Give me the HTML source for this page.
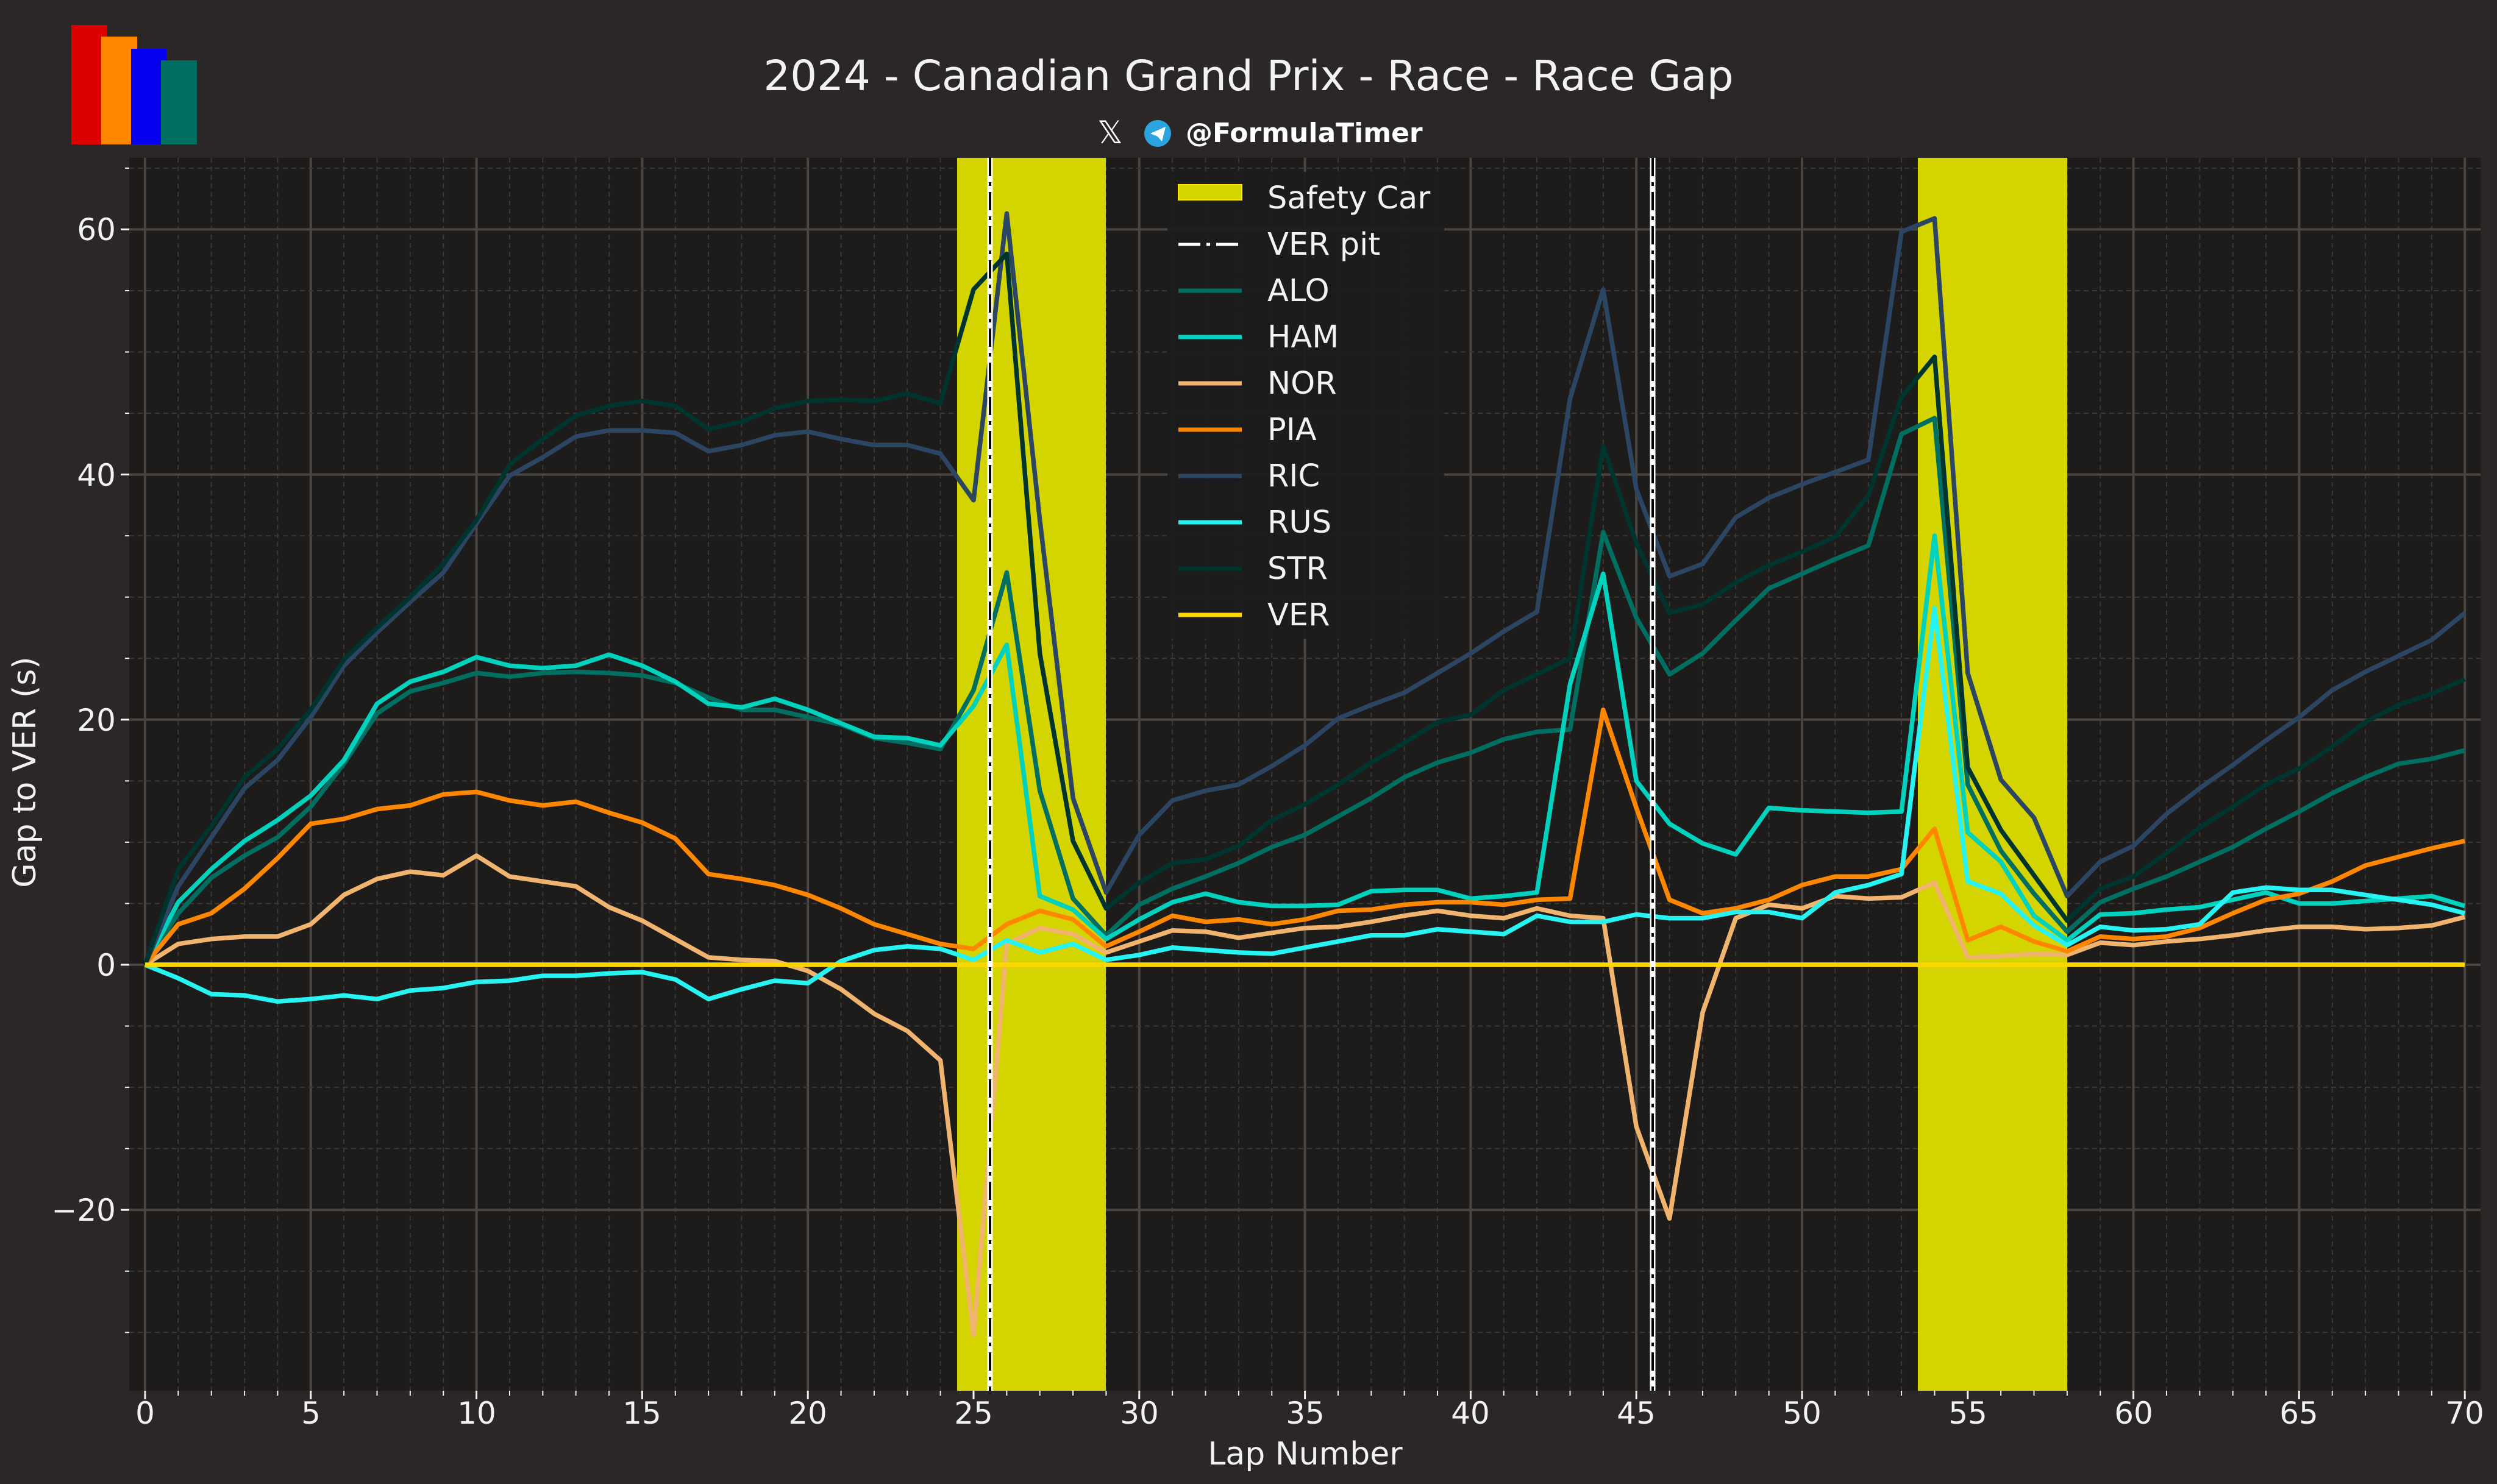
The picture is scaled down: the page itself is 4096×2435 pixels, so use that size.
<!DOCTYPE html>
<html><head><meta charset="utf-8"><style>
html,body{margin:0;padding:0;background:#2a2726;}
svg{display:block;font-family:"DejaVu Sans","Liberation Sans",sans-serif;}
</style></head><body>
<svg id="s" width="4096" height="2435" viewBox="0 0 4096 2435" xmlns="http://www.w3.org/2000/svg">
<rect width="4096" height="2435" fill="#2a2726"/>
<rect x="117" y="41" width="59" height="196" fill="#dc0000"/>
<rect x="166" y="60" width="59" height="177" fill="#ff8700"/>
<rect x="215" y="80" width="59" height="157" fill="#0600ef"/>
<rect x="264" y="99" width="59" height="138" fill="#006f62"/>
<text x="2048" y="148" font-size="69" fill="#f2f2f2" text-anchor="middle">2024 - Canadian Grand Prix - Race - Race Gap</text>
<text x="1800" y="235" font-size="52" fill="#ffffff">𝕏</text>
<circle cx="1899" cy="219" r="22" fill="#2aa3df"/>
<path d="M1887 219 L1912 208 L1906 232 L1899 224 Z" fill="#fff"/>
<text x="1945" y="233" font-size="44" font-weight="bold" fill="#ffffff">@FormulaTimer</text>
<rect x="212" y="259" width="3857" height="2023" fill="#1d1c1b"/>
<g id="grid"></g>
<rect x="1570" y="259" width="244" height="2023" fill="#d4d400"/>
<rect x="3146" y="259" width="245" height="2023" fill="#d4d400"/>
<g id="lines"></g>
<line x1="1624" y1="259" x2="1624" y2="2282" stroke="#fff" stroke-width="9"/>
<line x1="1624" y1="259" x2="1624" y2="2282" stroke="#000" stroke-width="4" stroke-dasharray="30 10 6 10"/>
<line x1="2711" y1="259" x2="2711" y2="2282" stroke="#fff" stroke-width="9"/>
<line x1="2711" y1="259" x2="2711" y2="2282" stroke="#000" stroke-width="4" stroke-dasharray="30 10 6 10"/>
<g id="ticks"></g>
<g font-size="50" fill="#f2f2f2" text-anchor="middle">
<text x="238" y="2336">0</text><text x="510" y="2336">5</text><text x="782" y="2336">10</text><text x="1053" y="2336">15</text><text x="1325" y="2336">20</text><text x="1597" y="2336">25</text><text x="1869" y="2336">30</text><text x="2141" y="2336">35</text><text x="2412" y="2336">40</text><text x="2684" y="2336">45</text><text x="2956" y="2336">50</text><text x="3228" y="2336">55</text><text x="3500" y="2336">60</text><text x="3771" y="2336">65</text><text x="4043" y="2336">70</text>
</g>
<g font-size="50" fill="#f2f2f2" text-anchor="end">
<text x="190" y="394">60</text><text x="190" y="797">40</text><text x="190" y="1199">20</text><text x="190" y="1601">0</text><text x="190" y="2003">−20</text>
</g>
<text x="2141" y="2403" font-size="52" fill="#f2f2f2" text-anchor="middle">Lap Number</text>
<text transform="translate(58,1267) rotate(-90)" font-size="52" fill="#f2f2f2" text-anchor="middle">Gap to VER (s)</text>
<rect x="1915" y="282" width="454" height="766" fill="#1c1c1c" opacity="0.92" rx="6"/>
<rect x="1933" y="303" width="104" height="25" fill="#d4d400" stroke="#ffe600" stroke-width="2"/>
<line x1="1933" y1="401" x2="2037" y2="401" stroke="#fff" stroke-width="5" stroke-dasharray="36 10 6 10"/>
<g id="leg"></g>
<g font-size="51" fill="#f2f2f2">
<text x="2079" y="342">Safety Car</text>
<text x="2079" y="418">VER pit</text>
<text x="2079" y="494">ALO</text>
<text x="2079" y="570">HAM</text>
<text x="2079" y="646">NOR</text>
<text x="2079" y="722">PIA</text>
<text x="2079" y="798">RIC</text>
<text x="2079" y="874">RUS</text>
<text x="2079" y="950">STR</text>
<text x="2079" y="1026">VER</text>
</g>
</svg>
<script>
var NS="http://www.w3.org/2000/svg";
function X(l){return 238+54.36*l;}function Y(v){return 1583-20.11*v;}
function el(p,t,a){var e=document.createElementNS(NS,t);for(var k in a)e.setAttribute(k,a[k]);p.appendChild(e);return e;}
var g=document.getElementById("grid"),tk=document.getElementById("ticks");
for(var l=-1;l<=70;l++){var x=X(l);if(x<212)continue;var maj=l%5==0;
el(g,"line",{x1:x,y1:259,x2:x,y2:2282,stroke:maj?"#4a4541":"#3a3735","stroke-width":maj?4:2,"stroke-dasharray":maj?"none":"8 6"});
el(tk,"line",{x1:x,y1:2282,x2:x,y2:maj?2296:2290,stroke:"#f2f2f2","stroke-width":maj?3:2});}
for(var v=-30;v<=65;v+=5){var y=Y(v);var maj=v%20==0;
el(g,"line",{x1:212,y1:y,x2:4069,y2:y,stroke:maj?"#4a4541":"#3a3735","stroke-width":maj?4:2,"stroke-dasharray":maj?"none":"8 6"});
el(tk,"line",{x1:212,y1:y,x2:maj?198:205,y2:y,stroke:"#f2f2f2","stroke-width":maj?3:2});}
var D={
ALO:["#006f62",[0,4.2,7.1,8.9,10.4,12.9,16.4,20.5,22.3,23,23.8,23.5,23.8,23.9,23.8,23.6,23,21.8,20.8,20.8,20.2,19.6,18.5,18.1,17.6,22.4,32,14.2,5.4,2.4,4.9,6.2,7.2,8.3,9.6,10.6,12.1,13.6,15.3,16.5,17.3,18.4,19,19.2,35.3,28.3,23.7,25.4,28.1,30.7,31.9,33.1,34.2,43.3,44.6,14.7,9.3,5.8,2.7,5.1,6.2,7.2,8.4,9.6,11.1,12.5,14,15.3,16.4,16.8,17.5]],
HAM:["#00d2be",[0,5.1,7.8,10.1,11.8,13.8,16.7,21.3,23.1,23.9,25.1,24.4,24.2,24.4,25.3,24.4,23.1,21.3,21,21.7,20.8,19.7,18.6,18.5,17.9,21.1,26.1,5.6,4.5,2.1,3.7,5.1,5.8,5.1,4.8,4.8,4.9,6,6.1,6.1,5.4,5.6,5.9,22.9,31.9,15,11.5,9.9,9,12.8,12.6,12.5,12.4,12.5,35,10.8,8.4,4,2,4.1,4.2,4.5,4.7,5.3,5.9,5,5,5.2,5.4,5.6,4.8]],
NOR:["#f0b46e",[0,1.7,2.1,2.3,2.3,3.3,5.7,7,7.6,7.3,8.9,7.2,6.8,6.4,4.7,3.6,2.1,0.6,0.4,0.3,-0.5,-2,-4,-5.4,-7.8,-30.2,1.7,3,2.5,1,1.9,2.8,2.7,2.2,2.6,3,3.1,3.5,4,4.4,4,3.8,4.6,4,3.8,-13.2,-20.7,-3.9,3.8,4.9,4.6,5.6,5.4,5.5,6.7,0.6,0.7,0.9,0.8,1.8,1.6,1.9,2.1,2.4,2.8,3.1,3.1,2.9,3,3.2,3.9]],
PIA:["#ff8700",[0,3.3,4.2,6.2,8.7,11.5,11.9,12.7,13,13.9,14.1,13.4,13,13.3,12.4,11.6,10.3,7.4,7,6.5,5.7,4.6,3.3,2.5,1.7,1.3,3.3,4.4,3.7,1.5,2.7,4,3.5,3.7,3.3,3.7,4.4,4.5,4.9,5.1,5.1,4.9,5.3,5.4,20.8,12.8,5.3,4.2,4.6,5.3,6.5,7.2,7.2,7.8,11.1,2,3.1,1.9,1.1,2.3,2.1,2.3,3,4.2,5.3,5.8,6.8,8.1,8.8,9.5,10.1]],
RIC:["#2b4562",[0,6.4,10.4,14.4,16.7,20.2,24.4,27.1,29.6,32,36,39.9,41.4,43.1,43.6,43.6,43.4,41.9,42.4,43.2,43.5,42.9,42.4,42.4,41.7,37.9,61.3,36.3,13.6,5.9,10.6,13.4,14.2,14.7,16.2,17.9,20.1,21.2,22.2,23.8,25.4,27.2,28.8,46.2,55.1,38.8,31.7,32.7,36.5,38.1,39.2,40.2,41.2,59.8,60.9,23.8,15.1,12,5.6,8.4,9.7,12.3,14.4,16.3,18.3,20.2,22.4,23.9,25.2,26.5,28.7]],
RUS:["#27f4f2",[0,-1.1,-2.4,-2.5,-3,-2.8,-2.5,-2.8,-2.1,-1.9,-1.4,-1.3,-0.9,-0.9,-0.7,-0.6,-1.2,-2.8,-2,-1.3,-1.5,0.3,1.2,1.5,1.3,0.4,2,1,1.7,0.4,0.8,1.4,1.2,1,0.9,1.4,1.9,2.4,2.4,2.9,2.7,2.5,4,3.5,3.5,4.1,3.8,3.8,4.3,4.3,3.8,5.9,6.5,7.4,29.1,6.8,5.8,3.2,1.6,3.1,2.8,2.9,3.3,5.9,6.3,6.1,6.1,5.7,5.3,4.9,4.2]],
STR:["#00352f",[0,7.8,11.3,15.3,17.6,20.8,24.9,27.5,30,32.7,36.3,40.8,42.9,44.8,45.6,46,45.6,43.7,44.3,45.4,46,46.1,46,46.6,45.8,55.1,58,25.4,10.1,4.6,6.7,8.3,8.6,9.7,11.8,13.1,14.7,16.5,18.1,19.8,20.4,22.4,23.7,25,42.3,34.4,28.7,29.4,31.2,32.6,33.7,34.9,38.3,46.3,49.6,16.1,11,7.3,3.6,6.2,7.2,9.1,11.2,12.9,14.7,16,17.8,19.8,21.2,22.1,23.3]],
VER:["#ffd700",null]};
var L=document.getElementById("lines"),lg=document.getElementById("leg"),i=0;
for(var k in D){var c=D[k][0],a=D[k][1],d="";
if(a){for(var j=0;j<a.length;j++)d+=(j?"L":"M")+X(j).toFixed(1)+" "+Y(a[j]).toFixed(1);}
else d="M"+X(0)+" "+Y(0)+"L"+X(70)+" "+Y(0);
el(L,"path",{d:d,fill:"none",stroke:c,"stroke-width":7.5,"stroke-linejoin":"round"});
var yy=477+76*i;el(lg,"line",{x1:1933,y1:yy,x2:2037,y2:yy,stroke:c,"stroke-width":7});i++;}
</script>
</body></html>
